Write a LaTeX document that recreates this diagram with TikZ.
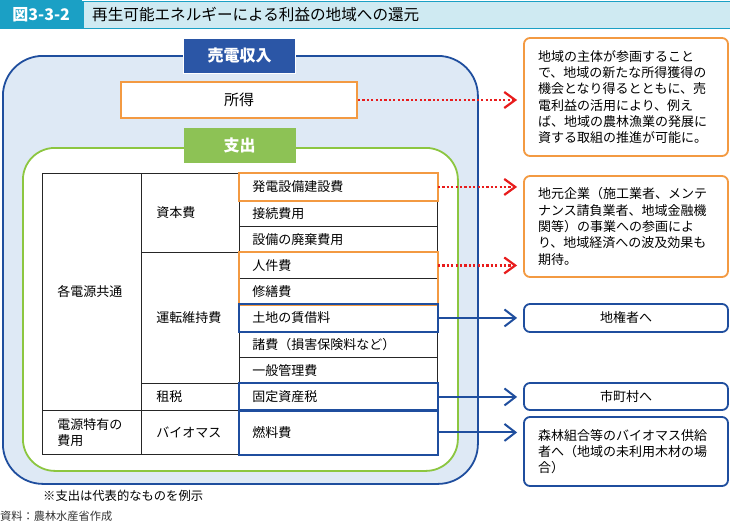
\documentclass[tikz,border=0pt]{standalone}
\usepackage{fontspec}
\setmainfont{Noto Sans CJK JP}
\usetikzlibrary{arrows.meta,positioning}

\definecolor{figteal}{HTML}{1BA0C5}
\definecolor{figtealbg}{HTML}{CFEAF2}
\definecolor{panelblue}{HTML}{1F4E9E}
\definecolor{panelbg}{HTML}{DEE9F5}
\definecolor{labelblue}{HTML}{2B56A6}
\definecolor{panelgreen}{HTML}{8CC640}
\definecolor{labelgreen}{HTML}{8DC255}
\definecolor{boxorange}{HTML}{F39A42}
\definecolor{dotred}{HTML}{E81C1C}

\tikzset{
  body/.style={font=\fontsize{13}{16.3}\selectfont},
  tcell/.style={body, draw=black!85, line width=0.9pt, fill=white, anchor=north west,
    inner ysep=0pt, align=left},
  colone/.style={inner xsep=15pt, text width=69pt},
  coltwo/.style={inner xsep=15pt, text width=68pt},
  colthree/.style={inner xsep=13pt, text width=172pt},
  orangeline/.style={draw=boxorange, line width=2pt},
  blueline/.style={draw=panelblue, line width=2pt},
  notebox/.style={body, rounded corners=6pt, line width=1.8pt, fill=white,
    minimum width=204pt, text width=176pt, inner xsep=14pt, align=left},
  shortbox/.style={body, rounded corners=6pt, line width=1.8pt, fill=white,
    draw=panelblue, minimum width=204pt, inner xsep=0pt},
  redarrow/.style={draw=dotred, line width=2.2pt, dash pattern=on 2.2pt off 2.2pt,
    -{Straight Barb[length=11pt,width=16pt,line width=2.2pt]}, shorten >=6pt},
  bluearrow/.style={draw=panelblue, line width=2pt,
    -{Straight Barb[length=11pt,width=17pt,line width=2pt]}, shorten >=6pt},
  tag/.style={font=\fontsize{16}{16}\selectfont\bfseries, text=white,
    minimum width=112pt, minimum height=35pt, inner sep=0pt}
}

\begin{document}
\begin{tikzpicture}[x=1pt,y=-1pt]
  \useasboundingbox[fill=white] (0,0) rectangle (730,522);

  % Title bar
  \node[draw=figteal, line width=1.5pt, fill=figtealbg, minimum width=648pt, minimum height=27pt,
    anchor=north west, inner sep=0pt] (titlebar) at (82,0.75) {};
  \node[fill=figteal, minimum width=82pt, minimum height=28.5pt, anchor=north west,
    inner sep=0pt, text=white, font=\fontsize{16}{16}\selectfont\bfseries] (fignum) at (0,0) {図3-3-2};
  \node[anchor=west, font=\fontsize{15.6}{16}\selectfont, inner xsep=0pt] (title) at (92,14.5)
    {再生可能エネルギーによる利益の地域への還元};

  % Panels
  \node[draw=panelblue, fill=panelbg, line width=1.8pt, rounded corners=40pt,
    minimum width=475pt, minimum height=428pt, anchor=north west] (revenue) at (2,55) {};
  \node[tag, fill=labelblue, draw=white, line width=0.8pt] (revenuetag) at (239.5,55.5) {売電収入};
  \node[body, draw=boxorange, line width=2pt, fill=white, minimum width=236pt,
    minimum height=36pt, font=\fontsize{15}{16}\selectfont] (shotoku) at (239,100) {所得};
  \node[draw=panelgreen, fill=white, line width=1.8pt, rounded corners=32pt,
    minimum width=435pt, minimum height=323pt, anchor=north west] (expense) at (22,147) {};
  \node[tag, fill=labelgreen] (expensetag) at (239.5,145.5) {支出};

  % Table
  \node[tcell, colone, minimum height=237pt] (kyotsu) at (42,173) {各電源共通};
  \node[tcell, colone, minimum height=44pt] (tokuyu) at (42,410) {電源特有の\\費用};
  \node[tcell, coltwo, minimum height=79pt] (shihon) at (141,173) {資本費};
  \node[tcell, coltwo, minimum height=131pt] (unten) at (141,252) {運転維持費};
  \node[tcell, coltwo, minimum height=27pt] (sozei) at (141,383) {租税};
  \node[tcell, coltwo, minimum height=44pt] (biomass) at (141,410) {バイオマス};
  \foreach \nm/\y/\h/\txt in {hatsuden/173/27/発電設備建設費, setsuzoku/200/26/接続費用,
      haiki/226/26/設備の廃棄費用, jinken/252/26/人件費, shuzen/278/26/修繕費,
      tochi/304/27/土地の賃借料, shohi/331/26/諸費（損害保険料など）, kanri/357/26/一般管理費,
      kotei/383/27/固定資産税, nenryo/410/44/燃料費} {
    \node[tcell, colthree, minimum height=\h pt] (\nm) at (239,\y) {\txt};
  }

  % Highlighted items
  \draw[orangeline] (hatsuden.north west) rectangle (hatsuden.south east);
  \draw[orangeline] (jinken.north west) rectangle (shuzen.south east);
  \foreach \nm in {tochi,kotei,nenryo} {
    \draw[blueline] (\nm.north west) rectangle (\nm.south east);
  }

  % Boxes on the right
  \node[notebox, draw=boxorange, minimum height=118pt] (chiiki) at (626,97)
    {地域の主体が参画すること\\で、地域の新たな所得獲得の\\機会となり得るとともに、売\\電利益の活用により、例え\\ば、地域の農林漁業の発展に\\資する取組の推進が可能に。};
  \node[notebox, draw=boxorange, minimum height=101pt] (jimoto) at (626,226.5)
    {地元企業（施工業者、メンテ\\ナンス請負業者、地域金融機\\関等）の事業への参画によ\\り、地域経済への波及効果も\\期待。};
  \node[shortbox, minimum height=28pt] (chiken) at (626,318) {地権者へ};
  \node[shortbox, minimum height=27pt] (shichoson) at (626,396.5) {市町村へ};
  \node[notebox, draw=panelblue, minimum height=69pt] (shinrin) at (626,451.5)
    {森林組合等のバイオマス供給\\者へ（地域の未利用木材の場\\合）};

  % Arrows
  \draw[redarrow] (shotoku.east) -- (shotoku.east -| chiiki.west);
  \draw[redarrow] (hatsuden.east) -- (hatsuden.east -| jimoto.west);
  \draw[redarrow] (jinken.east) -- (jinken.east -| jimoto.west);
  \draw[bluearrow] (tochi.east) -- (tochi.east -| chiken.west);
  \draw[bluearrow] (kotei.east) -- (kotei.east -| shichoson.west);
  \draw[bluearrow] (nenryo.east) -- (nenryo.east -| shinrin.west);

  % Notes
  \node[anchor=west, inner xsep=0pt, font=\fontsize{12.3}{14}\selectfont] (remark) at (43,496)
    {※支出は代表的なものを例示};
  \node[anchor=west, inner xsep=0pt, font=\fontsize{11.2}{13}\selectfont, text=black!80] (source) at (0,516)
    {資料：農林水産省作成};
\end{tikzpicture}
\end{document}
